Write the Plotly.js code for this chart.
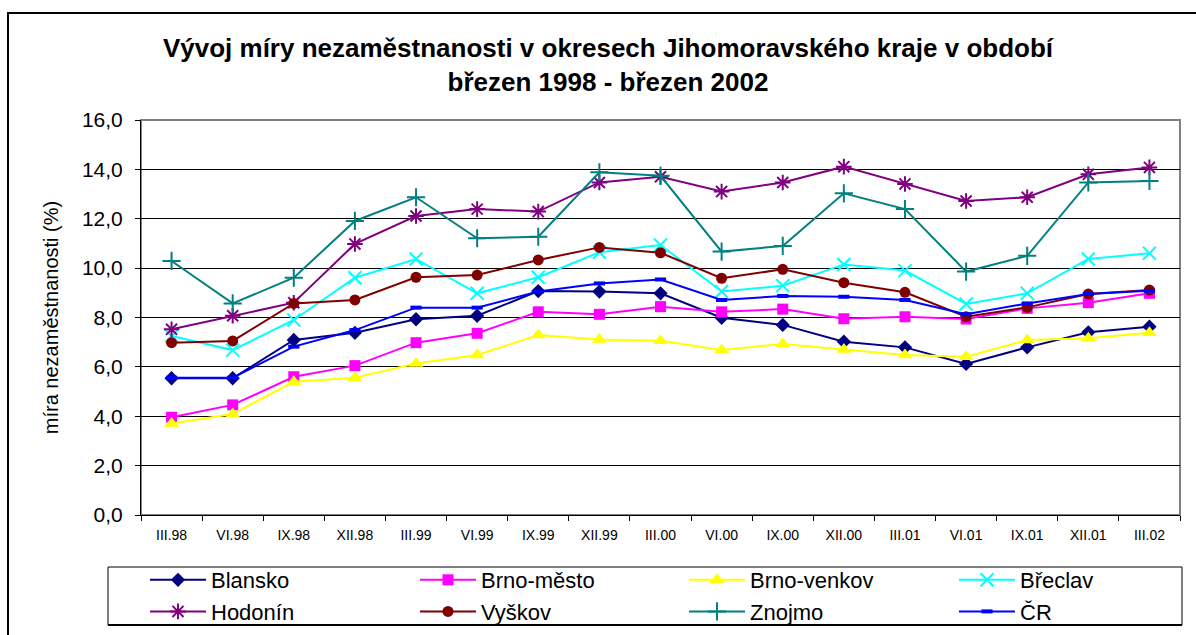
<!DOCTYPE html>
<html>
<head>
<meta charset="utf-8">
<script src="https://cdn.plot.ly/plotly-3.0.1.min.js"></script>
<style>html,body{margin:0;padding:0;background:#fff}#chart{width:1196px;height:635px}</style>
</head>
<body>
<div id="chart"></div>
<script>
const categories = ["III.98","VI.98","IX.98","XII.98","III.99","VI.99","IX.99","XII.99","III.00","VI.00","IX.00","XII.00","III.01","VI.01","IX.01","XII.01","III.02"];
const blansko    = [5.54,5.54,7.09,7.38,7.93,8.07,9.07,9.05,8.98,7.99,7.70,7.02,6.79,6.12,6.79,7.40,7.63];
const brnoMesto  = [3.96,4.46,5.60,6.05,6.98,7.36,8.23,8.13,8.44,8.23,8.34,7.95,8.03,7.94,8.37,8.60,8.98];
const brnoVenkov = [3.71,4.09,5.40,5.56,6.14,6.48,7.29,7.11,7.06,6.68,6.93,6.70,6.48,6.41,7.09,7.16,7.38];
const breclav    = [7.25,6.68,7.90,9.61,10.37,8.98,9.63,10.64,10.94,9.05,9.29,10.15,9.90,8.55,8.98,10.37,10.60];
const hodonin    = [7.52,8.07,8.60,10.98,12.11,12.39,12.29,13.47,13.70,13.10,13.47,14.11,13.41,12.72,12.87,13.80,14.08];
const vyskov     = [6.98,7.05,8.57,8.71,9.63,9.72,10.33,10.84,10.62,9.59,9.95,9.41,9.02,8.03,8.41,8.95,9.11];
const znojmo     = [10.29,8.57,9.61,11.91,12.87,11.21,11.27,13.88,13.74,10.67,10.90,13.03,12.39,9.86,10.50,13.47,13.53];
const cr         = [5.56,5.56,6.82,7.49,8.40,8.40,9.05,9.38,9.54,8.71,8.87,8.84,8.71,8.13,8.57,8.95,9.08];

const seriesNames = ["Blansko","Brno-město","Brno-venkov","Břeclav","Hodonín","Vyškov","Znojmo","ČR"];
const seriesData = [blansko, brnoMesto, brnoVenkov, breclav, hodonin, vyskov, znojmo, cr];

const styles = [
  {color:"#000080", marker:{symbol:"diamond", size:11, color:"#000080"}},
  {color:"#FF00FF", marker:{symbol:"square", size:11, color:"#FF00FF"}},
  {color:"#FFFF00", marker:{symbol:"triangle-up", size:13, color:"#FFFF00"}},
  {color:"#00FFFF", marker:{symbol:"x-thin-open", size:13, color:"#00FFFF", line:{width:2, color:"#00FFFF"}}},
  {color:"#800080", marker:{symbol:"asterisk-open", size:13, color:"#800080", line:{width:2, color:"#800080"}}},
  {color:"#800000", marker:{symbol:"circle", size:11, color:"#800000"}},
  {color:"#008080", marker:{symbol:"cross-thin-open", size:13, color:"#008080", line:{width:2, color:"#008080"}}},
  {color:"#0000FF", marker:{symbol:"line-ew-open", size:8, color:"#0000FF", line:{width:4, color:"#0000FF"}}}
];
// legend column of each series (4 columns, 2 rows in the reference)
const legendIds = ["legend","legend2","legend3","legend4","legend","legend2","legend3","legend4"];

const FONT = "Liberation Sans, Arial, sans-serif";
const W = 1196, H = 635, ML = 141, MR = 16, MT = 120, MB = 120;
const PW = W - ML - MR, PH = H - MT - MB;
const px = v => (v - ML) / PW;
const py = v => (H - MB - v) / PH;

const traces = seriesNames.map((name, i) => ({
  type: "scatter",
  mode: "lines+markers",
  name: name,
  legend: legendIds[i],
  x: categories,
  y: seriesData[i],
  line: {color: styles[i].color, width: 2},
  marker: styles[i].marker
}));

function legendAt(xPix) {
  return {
    orientation: "v",
    x: px(xPix), xanchor: "left",
    y: py(559), yanchor: "top",
    bgcolor: "rgba(0,0,0,0)",
    borderwidth: 0,
    font: {family: FONT, size: 22, color: "#000"},
    itemwidth: 56,
    traceorder: "normal"
  };
}

const layout = {
  width: W,
  height: H,
  margin: {l: ML, r: MR, t: MT, b: MB, autoexpand: false},
  paper_bgcolor: "#ffffff",
  plot_bgcolor: "#ffffff",
  separators: ",.",
  font: {family: FONT, color: "#000"},
  showlegend: true,
  title: {
    text: "<b>Vývoj míry nezaměstnanosti v okresech Jihomoravského kraje v období<br>březen 1998 - březen 2002</b>",
    font: {family: FONT, size: 26, color: "#000"},
    x: 608 / W, xanchor: "center", xref: "container",
    y: 1 - 57 / H, yanchor: "middle", yref: "container"
  },
  xaxis: {
    type: "category",
    range: [-0.5, categories.length - 0.5],
    autorange: false,
    showgrid: false,
    showline: true, linecolor: "#000", linewidth: 1,
    ticks: "outside", ticklen: 5, tickcolor: "#000",
    tickson: "boundaries",
    tickfont: {family: FONT, size: 14, color: "#000"},
    ticklabelstandoff: 7,
    zeroline: false,
    automargin: false,
    fixedrange: true
  },
  yaxis: {
    range: [0, 16],
    dtick: 2,
    tickformat: ".1f",
    showgrid: true, gridcolor: "#000", gridwidth: 1,
    showline: true, linecolor: "#000", linewidth: 1,
    ticks: "outside", ticklen: 5, tickcolor: "#000",
    tickfont: {family: FONT, size: 21, color: "#000"},
    ticklabelstandoff: 8,
    zeroline: false,
    automargin: false,
    title: {text: "míra nezaměstnanosti (%)", font: {family: FONT, size: 20, color: "#000"}, standoff: 17},
    fixedrange: true
  },
  legend: legendAt(145),
  legend2: legendAt(415),
  legend3: legendAt(684),
  legend4: legendAt(954),
  shapes: [
    {type: "rect", xref: "paper", yref: "paper", x0: 0, x1: 1, y0: 0, y1: 1,
     line: {color: "#808080", width: 2}, layer: "below"},
    {type: "rect", xref: "paper", yref: "paper",
     x0: px(8), x1: px(1205), y0: py(645), y1: py(13),
     line: {color: "#000", width: 2}, fillcolor: "rgba(0,0,0,0)", layer: "above"},
    {type: "rect", xref: "paper", yref: "paper",
     x0: px(108), x1: px(1182), y0: py(625), y1: py(567),
     line: {color: "#000", width: 1}, fillcolor: "rgba(0,0,0,0)", layer: "above"},
    {type: "line", xref: "paper", yref: "paper",
     x0: px(108), x1: px(1182), y0: py(625), y1: py(625),
     line: {color: "#000", width: 2}, layer: "above"}
  ]
};

Plotly.newPlot("chart", traces, layout, {displayModeBar: false, staticPlot: true});
</script>
</body>
</html>
